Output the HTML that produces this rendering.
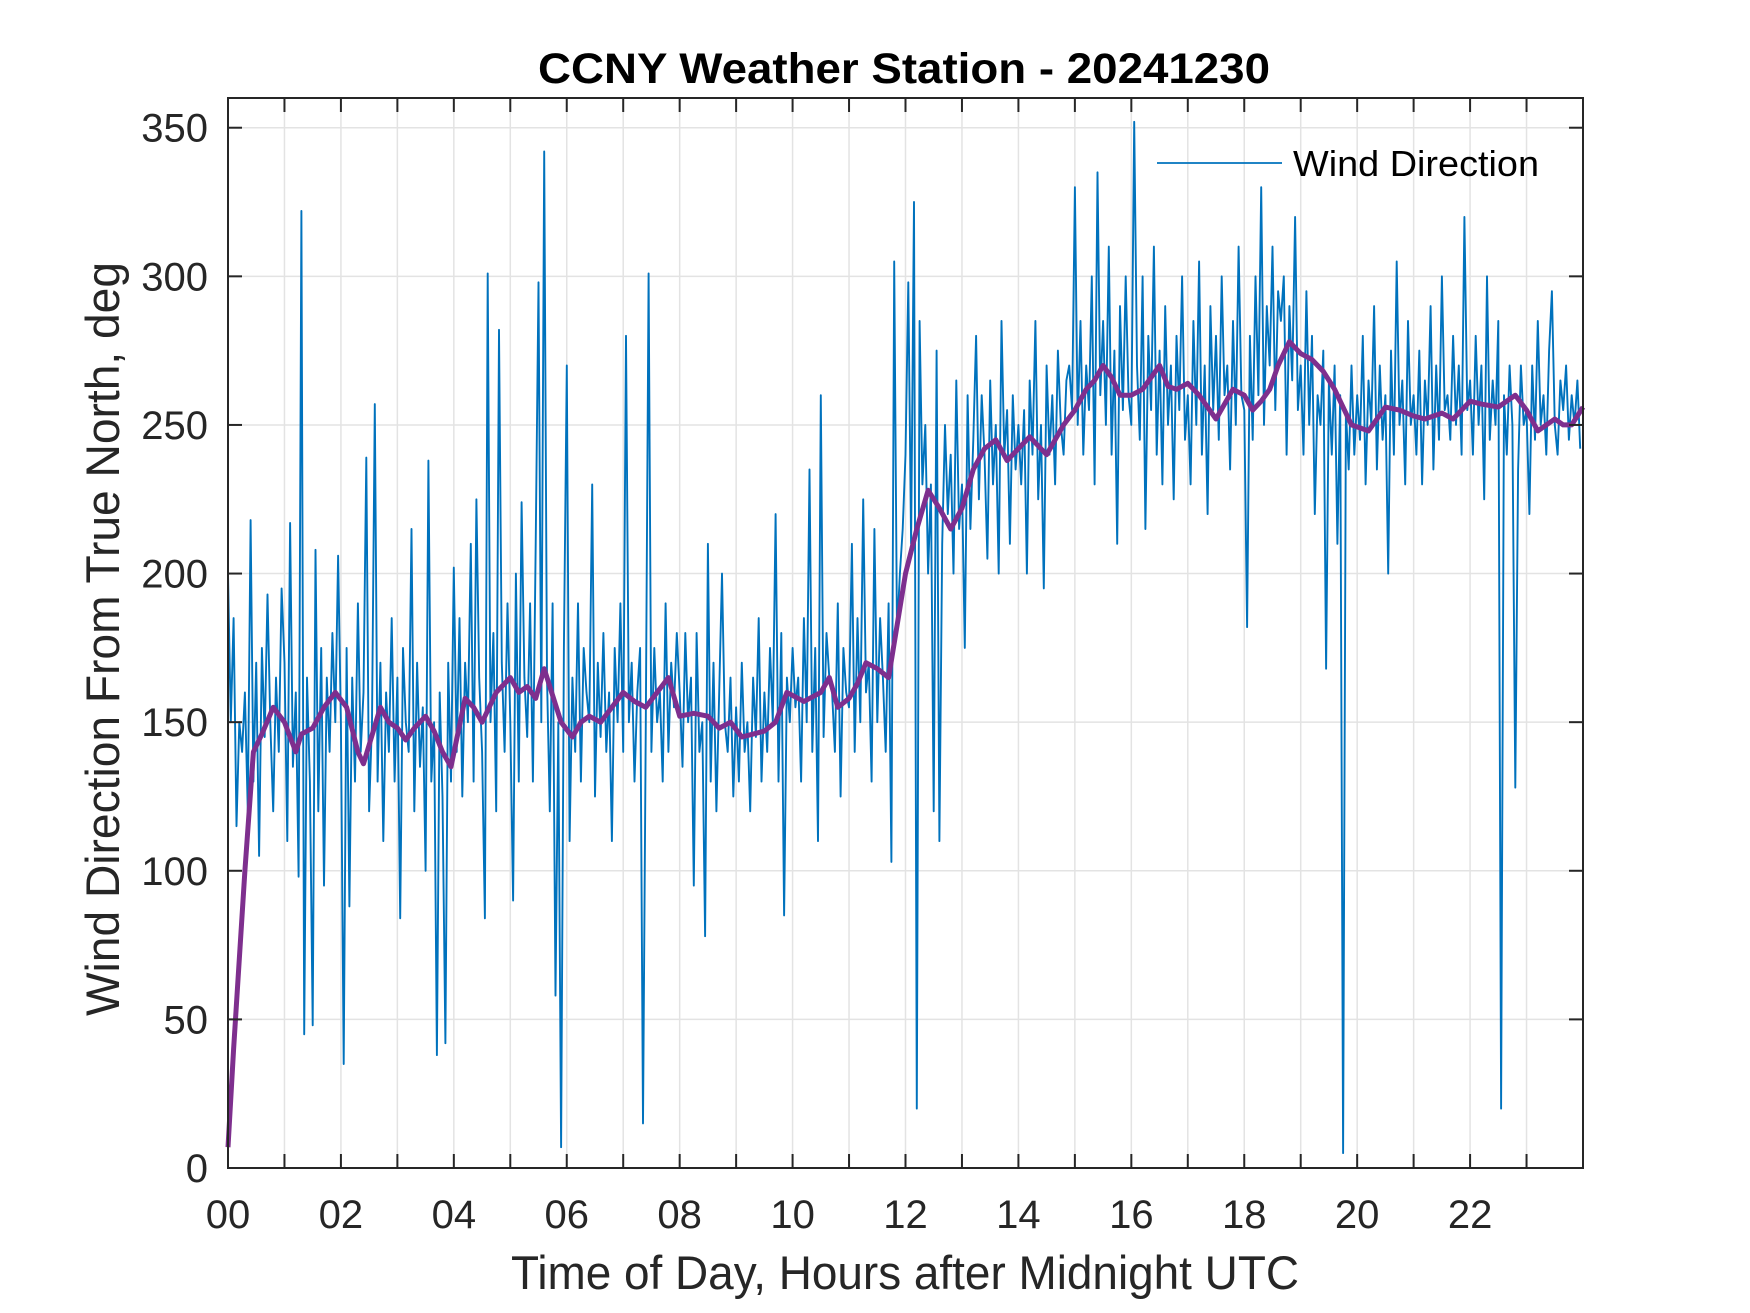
<!DOCTYPE html>
<html><head><meta charset="utf-8"><title>CCNY Weather Station - 20241230</title>
<style>html,body{margin:0;padding:0;background:#fff;}svg{display:block;font-family:"Liberation Sans",Arial,sans-serif;}</style>
</head><body>
<svg id="chart" width="1750" height="1313" viewBox="0 0 1750 1313" xmlns="http://www.w3.org/2000/svg">
<rect width="1750" height="1313" fill="#fff"/>
<g id="grid"></g>
<g id="series"></g>
<g id="axes"></g>
<text x="904" y="83" text-anchor="middle" font-size="43" font-weight="bold" textLength="732" lengthAdjust="spacingAndGlyphs" fill="#000">CCNY Weather Station - 20241230</text>
<text x="905" y="1289" text-anchor="middle" font-size="47" textLength="788" lengthAdjust="spacingAndGlyphs" fill="#262626">Time of Day, Hours after Midnight UTC</text>
<text transform="translate(119,639) rotate(-90)" text-anchor="middle" font-size="47" textLength="754" lengthAdjust="spacingAndGlyphs" fill="#262626">Wind Direction From True North, deg</text>
<g>
<line x1="1157" y1="163" x2="1282" y2="163" stroke="#0072BD" stroke-width="1.8"/>
<text x="1293" y="176" font-size="36" textLength="246" lengthAdjust="spacingAndGlyphs" fill="#000">Wind Direction</text>
</g>
</svg>
<script>
const xTickLabels = ["00","02","04","06","08","10","12","14","16","18","20","22"];
const yTickValues = [0,50,100,150,200,250,300,350];
const windStep = 1/20;
const windDirection = [
200,150,185,115,150,140,160,120,218,130,170,105,175,145,193,150,120,165,140,195,
170,110,217,135,160,98,322,45,165,130,48,208,120,175,95,165,140,180,150,206,
150,35,175,88,165,130,190,140,160,239,120,150,257,130,170,110,160,140,185,130,
165,84,175,150,140,215,120,170,135,155,100,238,130,150,38,160,125,42,170,130,
202,140,185,125,170,150,210,130,225,165,140,84,301,150,180,120,282,170,140,190,
150,90,200,130,224,165,145,190,130,210,298,150,342,165,120,190,58,150,7,175,
270,110,165,140,190,130,175,160,150,230,125,170,145,180,140,160,110,175,150,190,
140,280,150,170,130,160,175,15,150,301,140,175,150,160,130,190,140,170,155,180,
160,135,180,150,165,95,180,140,150,78,210,130,170,120,160,200,150,140,165,125,
155,130,170,140,150,120,165,145,185,130,160,140,175,150,220,130,180,85,165,150,
175,155,165,130,185,150,235,140,175,110,260,145,180,165,160,140,190,125,175,160,
155,210,140,185,150,225,160,170,130,215,150,185,165,140,190,103,305,180,200,215,
240,298,210,325,20,285,230,250,200,230,120,275,110,210,250,220,240,200,265,215,
230,175,260,215,245,280,225,260,240,205,265,230,250,200,285,240,255,210,260,235,
250,230,255,200,265,240,285,225,250,195,270,240,260,230,275,250,240,265,270,255,
330,250,285,240,270,255,300,230,335,260,285,250,310,240,275,210,290,255,300,260,
250,352,270,245,300,215,280,255,310,240,275,230,290,250,270,225,280,255,300,245,
260,230,285,250,305,240,270,220,290,255,280,245,300,260,270,235,285,250,310,260,
255,182,280,245,300,260,330,250,290,270,310,255,295,285,300,240,290,265,320,255,
270,240,295,250,280,220,260,250,275,168,265,240,270,210,260,5,255,235,270,240,
260,245,280,230,265,250,290,235,270,245,260,200,275,240,305,250,265,230,285,250,
260,240,275,230,265,250,290,235,270,245,300,255,260,245,280,250,270,240,320,255,
265,240,280,250,270,225,300,245,265,250,285,20,260,240,270,250,128,235,270,250,
255,220,270,245,285,250,260,240,275,295,250,240,265,255,270,245,260,250,265,242];
const avgHours = [0,0.1,0.3,0.45,0.6,0.8,1.0,1.1,1.2,1.3,1.5,1.7,1.9,2.1,2.3,2.4,2.7,2.85,3.0,3.15,3.3,3.5,3.65,3.8,3.95,4.2,4.35,4.5,4.75,5.0,5.15,5.3,5.45,5.6,5.9,6.1,6.25,6.4,6.6,6.8,7.0,7.2,7.4,7.6,7.8,8.0,8.25,8.5,8.7,8.9,9.1,9.3,9.5,9.7,9.9,10.2,10.5,10.65,10.8,11.0,11.15,11.3,11.5,11.7,12.0,12.2,12.4,12.6,12.8,13.0,13.2,13.4,13.6,13.8,14.0,14.2,14.5,14.8,15.0,15.2,15.35,15.5,15.65,15.8,16.0,16.2,16.35,16.5,16.65,16.8,17.0,17.2,17.5,17.8,18.0,18.15,18.3,18.45,18.6,18.8,19.0,19.2,19.4,19.6,19.9,20.2,20.5,20.75,21.0,21.2,21.5,21.7,22.0,22.2,22.5,22.8,23.0,23.2,23.5,23.65,23.8,24];
const avgValues = [7,40,100,140,146,155,150,145,140,146,148,155,160,155,140,136,155,150,148,144,148,152,147,140,135,158,155,150,160,165,160,162,158,168,150,145,150,152,150,155,160,157,155,160,165,152,153,152,148,150,145,146,147,150,160,157,160,165,155,158,163,170,168,165,200,215,228,222,215,222,235,242,245,238,242,246,240,250,255,262,265,270,266,260,260,262,266,270,263,262,264,260,252,262,260,255,258,262,270,278,274,272,268,262,250,248,256,255,253,252,254,252,258,257,256,260,255,248,252,250,250,256];

const L=228,R=1583,T=98,B=1168,XMAX=24,YMAX=360;
const xs=h=>L+(R-L)*h/XMAX;
const ys=v=>B-(B-T)*v/YMAX;
const NS="http://www.w3.org/2000/svg";
function mk(tag,attrs,parent){const e=document.createElementNS(NS,tag);for(const k in attrs)e.setAttribute(k,attrs[k]);parent.appendChild(e);return e;}
const grid=document.getElementById('grid'),series=document.getElementById('series'),axes=document.getElementById('axes');
for(let h=1;h<24;h++){const g=mk('line',{x1:xs(h),x2:xs(h),y1:T,y2:B,stroke:'#e3e3e3','stroke-width':1.5},grid);

}
yTickValues.forEach(v=>{if(v===0)return;const g=mk('line',{x1:L,x2:R,y1:ys(v),y2:ys(v),stroke:'#e3e3e3','stroke-width':1.5},grid);

});
let d='';windDirection.forEach((v,i)=>{d+=(i?'L':'M')+xs(i*windStep).toFixed(1)+' '+ys(v).toFixed(1);});
const wl=mk('path',{d:d,fill:'none',stroke:'#0072BD','stroke-width':1.9,'stroke-linejoin':'round'},series);


let d2='';avgValues.forEach((v,i)=>{d2+=(i?'L':'M')+xs(avgHours[i]).toFixed(1)+' '+ys(v).toFixed(1);});
const al=mk('path',{d:d2,fill:'none',stroke:'#7E2F8E','stroke-width':5,'stroke-linejoin':'round'},series);


const box=mk('rect',{x:L,y:T,width:R-L,height:B-T,fill:'none',stroke:'#262626','stroke-width':2},axes);


for(let h=0;h<=24;h++){
 const t1=mk('line',{x1:xs(h),x2:xs(h),y1:B,y2:B-14,stroke:'#262626','stroke-width':2},axes);
 
 
 const t2=mk('line',{x1:xs(h),x2:xs(h),y1:T,y2:T+14,stroke:'#262626','stroke-width':2},axes);
 
 
}
xTickLabels.forEach((s,i)=>{const t=mk('text',{x:xs(i*2),y:1228,'text-anchor':'middle','font-size':40,fill:'#262626'},axes);t.textContent=s;

});
yTickValues.forEach(v=>{
 const a=mk('line',{x1:L,x2:L+14,y1:ys(v),y2:ys(v),stroke:'#262626','stroke-width':2},axes);
 
 
 const b=mk('line',{x1:R,x2:R-14,y1:ys(v),y2:ys(v),stroke:'#262626','stroke-width':2},axes);
 
 
 const t=mk('text',{x:208,y:ys(v)+14,'text-anchor':'end','font-size':40,fill:'#262626'},axes);t.textContent=String(v);
 
 
});
</script>
</body></html>
